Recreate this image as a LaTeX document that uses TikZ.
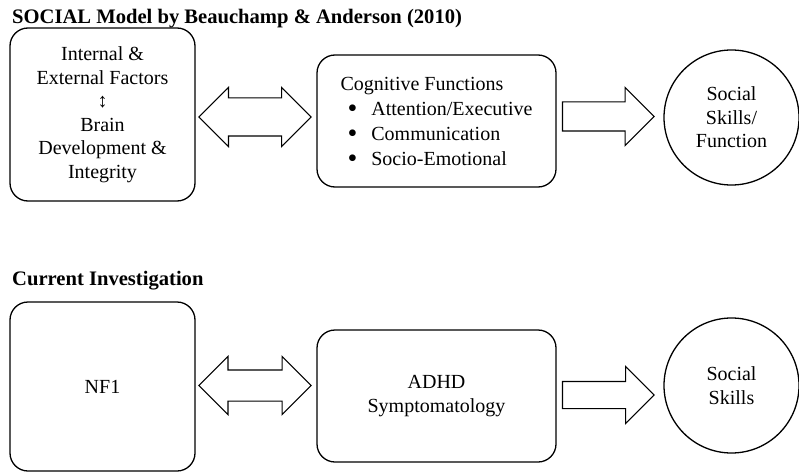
\documentclass[tikz,border=0pt]{standalone}
\usepackage{fontspec}
\setmainfont{Liberation Serif}
\usetikzlibrary{shapes.arrows}

\newcommand{\cogbullet}{\hspace*{7pt}\raisebox{-2pt}[0pt][0pt]{\scalebox{1.4}{\textbullet}}\hspace*{14pt}}

\begin{document}
\begin{tikzpicture}[
    x=1pt, y=-1pt,
    box/.style={rectangle, draw, line width=1.3pt, rounded corners=18pt, align=center, inner sep=0pt, font=\fontsize{20}{23.5}\selectfont},
    bubble/.style={circle, draw, line width=1.3pt, minimum size=135pt, align=center, inner sep=0pt, font=\fontsize{20}{23.5}\selectfont},
    twoway/.style={double arrow, draw, line width=1.1pt, double arrow head extend=10.5pt, inner xsep=36.5pt, inner ysep=18.5pt},
    oneway/.style={single arrow, draw, line width=1.1pt, single arrow head extend=14.5pt, inner xsep=38pt, inner ysep=14pt},
    heading/.style={anchor=base west, inner sep=0pt, font=\fontsize{20.6}{24}\selectfont\bfseries}
]
\useasboundingbox (0,0) rectangle (799,473);

% SOCIAL model
\node[heading] (socialtitle) at (12,24) {SOCIAL Model by Beauchamp \& Anderson (2010)};
\node[box, minimum width=185pt, minimum height=173pt] (factors) at (102.5,114.5) {Internal \&\\External Factors\\↕\\Brain\\Development \&\\Integrity};
\node[box, minimum width=239pt, minimum height=132pt, align=left, font=\fontsize{20}{25}\selectfont] (cognitive) at (436.5,121) {Cognitive Functions\\
\cogbullet Attention/Executive\\
\cogbullet Communication\\
\cogbullet Socio-Emotional};
\node[bubble] (function) at (731.5,117.5) {Social\\Skills/\\Function};
\node[twoway] (factorslink) at (255,117) {};
\node[oneway] (cognitivelink) at (601,116.5) {};

% current investigation
\node[heading] (currenttitle) at (12,285) {Current Investigation};
\node[box, minimum width=185pt, minimum height=169pt] (nf) at (102.5,386.5) {NF1};
\node[box, minimum width=239pt, minimum height=132pt] (adhd) at (436.5,396) {ADHD\\Symptomatology};
\node[bubble] (skills) at (731.5,385.5) {Social\\Skills};
\node[twoway, inner xsep=40pt, inner ysep=15pt, double arrow head extend=13.5pt] (nflink) at (255,385.5) {};
\node[oneway, inner xsep=38.5pt, inner ysep=13pt, single arrow head extend=15pt] (adhdlink) at (601.5,395) {};
\end{tikzpicture}
\end{document}
